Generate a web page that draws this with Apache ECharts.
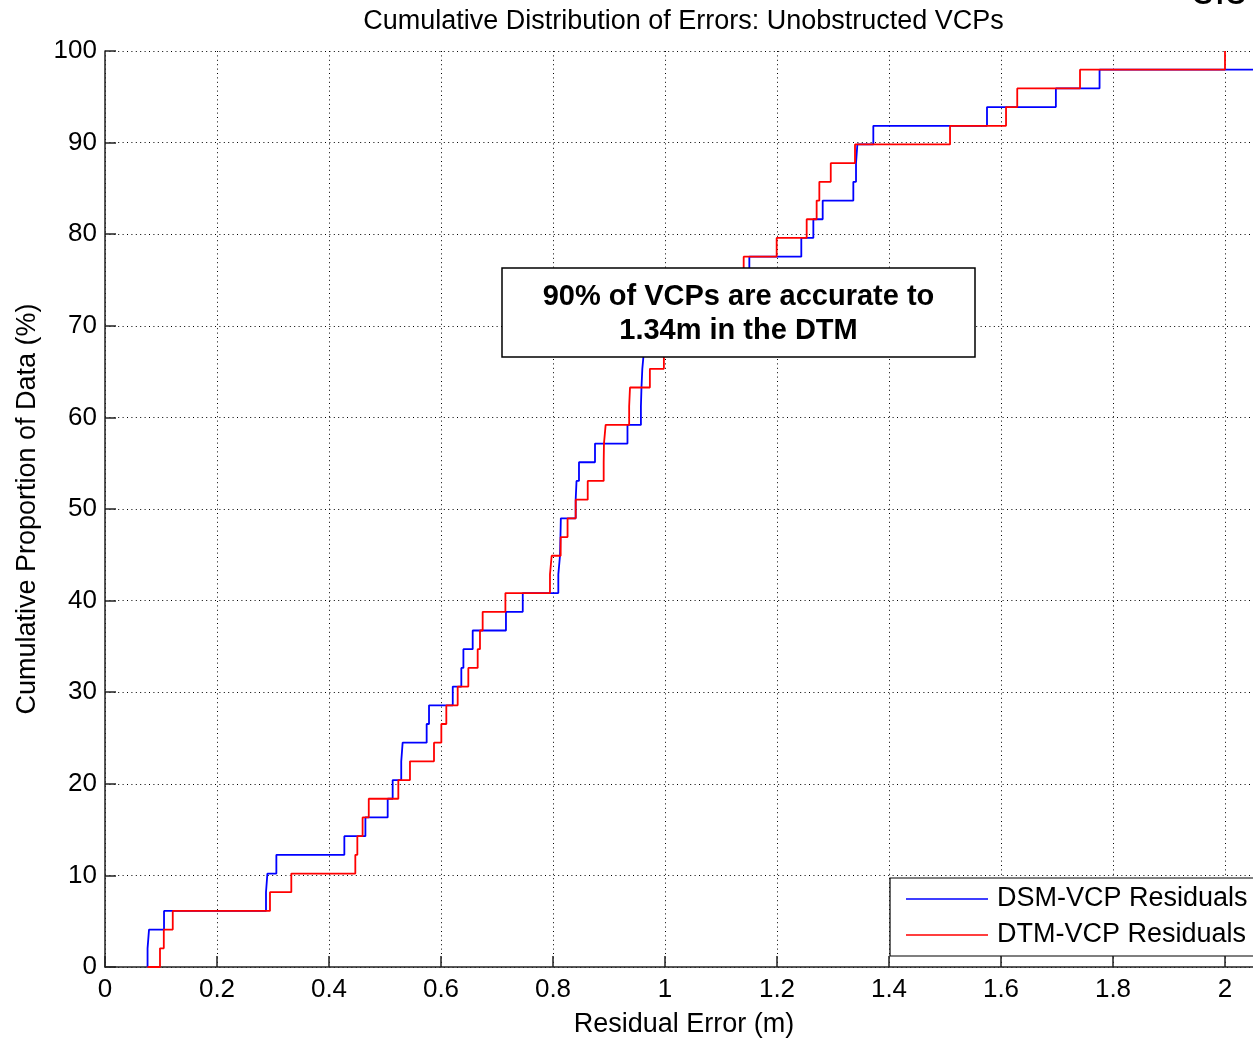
<!DOCTYPE html>
<html><head><meta charset="utf-8">
<script src="https://cdn.jsdelivr.net/npm/echarts@6/dist/echarts.min.js"></script>
<style>html,body{margin:0;padding:0;background:#fff}#c{width:1253px;height:1040px}</style>
</head><body><div id="c"></div>
<script>
// Sorted residual errors (m), one per VCP
const dsmErrors = [0.076, 0.0786, 0.1054, 0.2875, 0.29, 0.306, 0.4274, 0.465, 0.5048, 0.5137,
  0.529, 0.5315, 0.5744, 0.5786, 0.621, 0.6363, 0.640, 0.6566, 0.716, 0.746,
  0.8095, 0.8125, 0.8133, 0.814, 0.8405, 0.842, 0.8464, 0.875, 0.933, 0.957,
  0.958, 0.9595, 0.9625, 1.00, 1.05, 1.09, 1.13, 1.1506, 1.2434, 1.2649,
  1.2816, 1.3363, 1.3411, 1.3435, 1.372, 1.575, 1.698, 1.776, 2.3];
const dtmErrors = [0.0982, 0.105, 0.121, 0.2946, 0.3327, 0.447, 0.4506, 0.460, 0.471, 0.5238,
  0.5446, 0.5875, 0.6006, 0.6095, 0.6298, 0.6488, 0.6655, 0.6696, 0.6744, 0.715,
  0.7946, 0.7976, 0.8137, 0.826, 0.8405, 0.862, 0.8905, 0.891, 0.894, 0.936,
  0.9375, 0.973, 0.998, 1.03, 1.07, 1.10, 1.12, 1.1405, 1.1994, 1.253,
  1.2708, 1.2756, 1.296, 1.3393, 1.509, 1.609, 1.629, 1.7411, 2.0];
const cdfStartX = 0.076;
const seriesNames = ['DSM-VCP Residuals', 'DTM-VCP Residuals'];
const titleText = 'Cumulative Distribution of Errors: Unobstructed VCPs';
const xAxisName = 'Residual Error (m)';
const yAxisName = 'Cumulative Proportion of Data (%)';
const noteLines = ['90% of VCPs are accurate to', '1.34m in the DTM'];
const cornerText = '3.5';

function ecdf(errors) {
  const n = errors.length;
  const pts = [[cdfStartX, 0]];
  errors.forEach((e, i) => pts.push([e, (i + 1) / n * 100]));
  return pts;
}

const FONT = 'Liberation Sans, Arial, Helvetica, sans-serif';
const dotted = { color: '#000', width: 1, type: [1, 3.4] };
const chart = echarts.init(document.getElementById('c'), null, { renderer: 'canvas' });
chart.setOption({
  backgroundColor: '#fff',
  animation: false,
  grid: { left: 105, right: 0, top: 51, bottom: 73, containLabel: false, outerBoundsMode: 'none' },
  xAxis: {
    type: 'value', min: 0, max: 2.05, interval: 0.2,
    name: xAxisName, nameLocation: 'middle', nameGap: 44,
    nameTextStyle: { fontSize: 27, color: '#000', fontFamily: FONT, padding: [0, 0, 0, 10] },
    axisLine: { show: true, lineStyle: { color: '#222', width: 1.5 } },
    axisTick: { show: true, inside: true, length: 11, lineStyle: { color: '#222', width: 1.5 } },
    axisLabel: { fontSize: 26, color: '#000', fontFamily: FONT, margin: 10, showMaxLabel: false },
    splitLine: { show: true, lineStyle: dotted }
  },
  yAxis: {
    type: 'value', min: 0, max: 100, interval: 10,
    name: yAxisName, nameLocation: 'middle', nameGap: 64, nameRotate: 90,
    nameTextStyle: { fontSize: 27, color: '#000', fontFamily: FONT },
    axisLine: { show: true, lineStyle: { color: '#222', width: 1.5 } },
    axisTick: { show: true, inside: true, length: 11, lineStyle: { color: '#222', width: 1.5 } },
    axisLabel: { fontSize: 26, color: '#000', fontFamily: FONT, margin: 8 },
    splitLine: { show: true, lineStyle: dotted }
  },
  legend: {
    orient: 'vertical', left: 890, top: 878,
    padding: [6, 10, 6, 16], itemWidth: 82, itemHeight: 30, itemGap: 6,
    backgroundColor: '#fff', borderColor: '#000', borderWidth: 1.2,
    icon: 'path://M0,14.2h82v1.6h-82z M0,0h0.01v0.01h-0.01z M0,29.99h0.01v0.01h-0.01z',
    textStyle: { fontSize: 27, color: '#000', fontFamily: FONT, padding: [0, 0, 0, 4] },
    data: seriesNames
  },
  series: [
    { name: seriesNames[0], type: 'line', step: 'end', symbol: 'none', clip: true,
      color: '#0000ff', lineStyle: { color: '#0000ff', width: 1.8 }, data: ecdf(dsmErrors), z: 3 },
    { name: seriesNames[1], type: 'line', step: 'end', symbol: 'none', clip: true,
      color: '#ff0000', lineStyle: { color: '#ff0000', width: 1.8 }, data: ecdf(dtmErrors), z: 4 }
  ],
  graphic: [
    { type: 'text', x: 683.5, y: 22, z: 10,
      style: { text: titleText, fontSize: 27, fontFamily: FONT, fill: '#000', align: 'center', verticalAlign: 'middle' } },
    { type: 'text', x: 1192, y: -7, z: 10,
      style: { text: cornerText, fontSize: 40, fontFamily: FONT, fill: '#000', align: 'left', verticalAlign: 'middle' } },
    { type: 'rect', z: 20, shape: { x: 502, y: 268, width: 473, height: 89 },
      style: { fill: '#fff', stroke: '#000', lineWidth: 1.5 } },
    { type: 'text', x: 738.5, y: 297, z: 21,
      style: { text: noteLines[0], fontSize: 29, fontWeight: 'bold', fontFamily: FONT, fill: '#000', align: 'center', verticalAlign: 'middle' } },
    { type: 'text', x: 738.5, y: 331, z: 21,
      style: { text: noteLines[1], fontSize: 29, fontWeight: 'bold', fontFamily: FONT, fill: '#000', align: 'center', verticalAlign: 'middle' } }
  ]
});
</script>
</body></html>
